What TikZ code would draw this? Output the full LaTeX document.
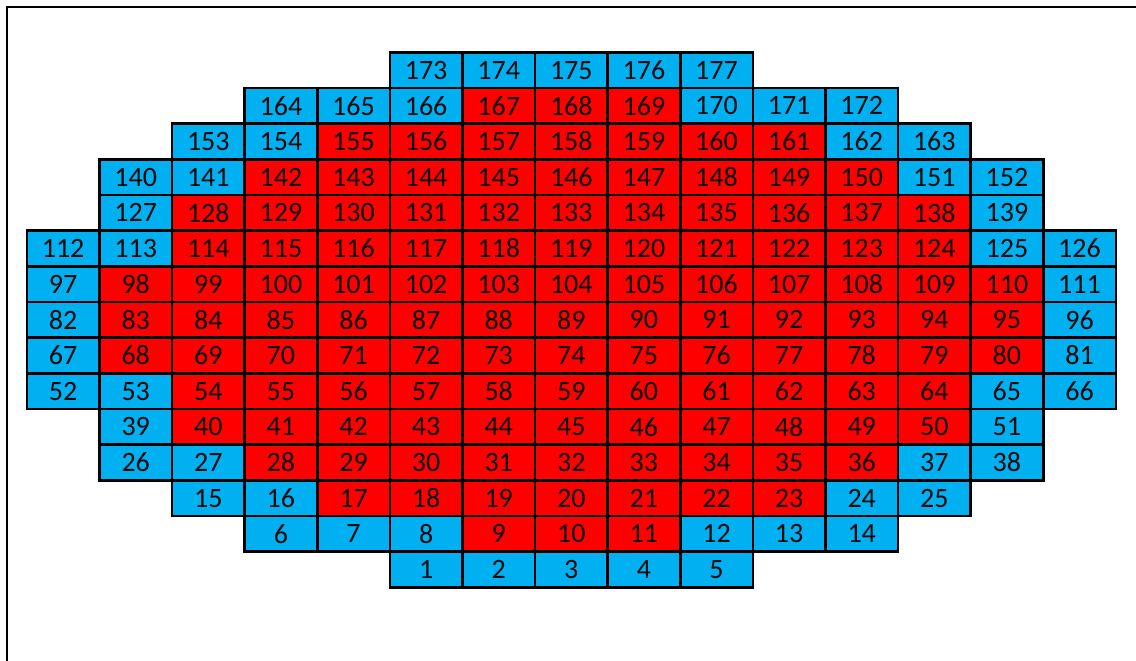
\documentclass[tikz,border=0pt]{standalone}
\usepackage{fontspec}
\setmainfont{Carlito}
\definecolor{cblue}{RGB}{0,176,240}
\definecolor{cred}{RGB}{255,0,0}
\definecolor{ctext}{RGB}{10,10,10}
\begin{document}
\begin{tikzpicture}[x=1pt,y=-1pt,
  cellb/.style={draw=black,line width=2.6pt,fill=cblue,minimum width=72.6pt,minimum height=35.67pt,inner sep=0pt,anchor=north west,font=\fontsize{28}{28}\selectfont,text=ctext},
  cellr/.style={cellb,fill=cred}]
\useasboundingbox (0,0) rectangle (1136,661);
\draw[line width=1.6pt] (7,700) -- (7,7) -- (1200,7);
\def\W{72.6}\def\H{35.67}
% helper: \cellrow{row}{startcol}{firstnum}{count}{redstart}{redend}
\newcommand{\cellrow}[6]{%
  \pgfmathtruncatemacro{\last}{#4-1}%
  \foreach \k in {0,...,\last}{%
    \pgfmathtruncatemacro{\num}{#3+\k}%
    \pgfmathtruncatemacro{\isred}{(\num>=#5)&&(\num<=#6)?1:0}%
    \ifnum\isred=1
      \node[cellr] (c\num) at ({25.5+(#2+\k)*\W},{51+#1*\H}) {\num};
    \else
      \node[cellb] (c\num) at ({25.5+(#2+\k)*\W},{51+#1*\H}) {\num};
    \fi
  }%
}
\cellrow{0}{5}{173}{5}{0}{0}
\cellrow{1}{3}{164}{9}{167}{169}
\cellrow{2}{2}{153}{11}{155}{161}
\cellrow{3}{1}{140}{13}{142}{150}
\cellrow{4}{1}{127}{13}{128}{138}
\cellrow{5}{0}{112}{15}{114}{124}
\cellrow{6}{0}{97}{15}{98}{110}
\cellrow{7}{0}{82}{15}{83}{95}
\cellrow{8}{0}{67}{15}{68}{80}
\cellrow{9}{0}{52}{15}{54}{64}
\cellrow{10}{1}{39}{13}{40}{50}
\cellrow{11}{1}{26}{13}{28}{36}
\cellrow{12}{2}{15}{11}{17}{23}
\cellrow{13}{3}{6}{9}{9}{11}
\cellrow{14}{5}{1}{5}{0}{0}
\end{tikzpicture}
\end{document}
